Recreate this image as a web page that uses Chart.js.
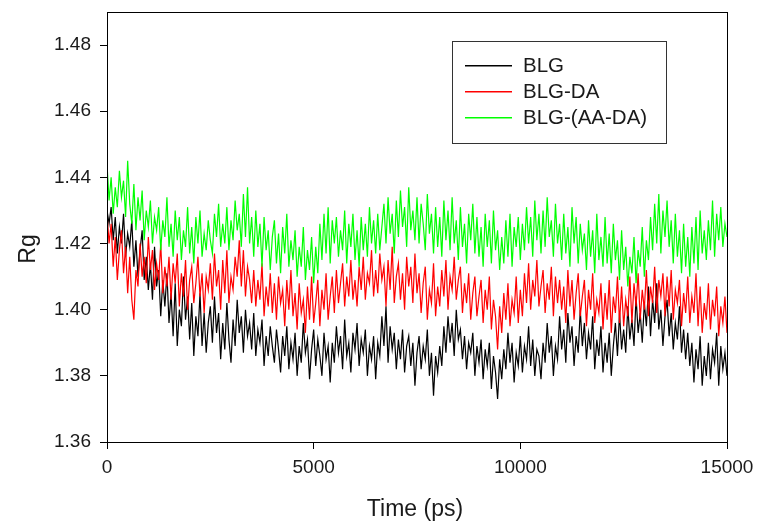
<!DOCTYPE html>
<html>
<head>
<meta charset="utf-8">
<script src="https://cdn.jsdelivr.net/npm/chart.js@4"></script>
<style>
  html, body { margin: 0; padding: 0; background: #fff; }
  #wrap { width: 757px; height: 526px; }
</style>
</head>
<body>
<div id="wrap"><canvas id="rgChart" width="757" height="526"></canvas></div>
<script>
// Time axis (ps), one sample every 50 ps
const timeStep = 50;
const yTicks = [1.36, 1.38, 1.40, 1.42, 1.44, 1.46, 1.48];
const xTicks = [0, 5000, 10000, 15000];
const seriesNames = ['BLG', 'BLG-DA', 'BLG-(AA-DA)'];
const seriesColors = ['#000000', '#ff0000', '#00ff00'];
const xTitle = 'Time (ps)';
const yTitle = 'Rg';

// Rg values (one row = 500 ps)
const blg = [
  1.430,
  1.426, 1.431, 1.421, 1.428, 1.417, 1.425, 1.420, 1.429, 1.416, 1.423,
  1.419, 1.427, 1.413, 1.421, 1.410, 1.418, 1.424, 1.409, 1.416, 1.406,
  1.414, 1.403, 1.419, 1.407, 1.412, 1.398, 1.409, 1.401, 1.411, 1.396,
  1.405, 1.392, 1.408, 1.389, 1.400, 1.395, 1.410, 1.397, 1.404, 1.391,
  1.402, 1.386, 1.398, 1.392, 1.405, 1.389, 1.399, 1.387, 1.396, 1.401,
  1.390, 1.404, 1.393, 1.399, 1.385, 1.396, 1.388, 1.402, 1.391, 1.384,
  1.397, 1.389, 1.403, 1.393, 1.398, 1.387, 1.400, 1.392, 1.396, 1.388,
  1.399, 1.386, 1.394, 1.390, 1.397, 1.383, 1.392, 1.386, 1.395, 1.389,
  1.384, 1.394, 1.388, 1.381, 1.392, 1.386, 1.395, 1.382, 1.390, 1.385,
  1.393, 1.380, 1.389, 1.384, 1.396, 1.387, 1.391, 1.379, 1.388, 1.394,
  1.383, 1.391, 1.386, 1.380, 1.393, 1.385, 1.389, 1.378, 1.390, 1.384,
  1.395, 1.387, 1.392, 1.382, 1.397, 1.386, 1.390, 1.381, 1.393, 1.388,
  1.396, 1.383, 1.391, 1.387, 1.394, 1.380, 1.389, 1.385, 1.392, 1.379,
  1.390, 1.386, 1.398, 1.389, 1.401, 1.384, 1.395, 1.388, 1.393, 1.382,
  1.391, 1.385, 1.394, 1.381, 1.389, 1.392, 1.383, 1.390, 1.377, 1.387,
  1.392, 1.382, 1.389, 1.385, 1.394, 1.380, 1.387, 1.374, 1.386, 1.381,
  1.389, 1.383, 1.395, 1.387, 1.398, 1.390, 1.396, 1.386, 1.400, 1.391,
  1.394, 1.385, 1.392, 1.382, 1.390, 1.387, 1.393, 1.380, 1.389, 1.384,
  1.391, 1.379, 1.388, 1.383, 1.390, 1.376, 1.386, 1.381, 1.373, 1.385,
  1.379, 1.388, 1.382, 1.393, 1.384, 1.390, 1.378, 1.387, 1.383, 1.392,
  1.381, 1.389, 1.385, 1.395, 1.383, 1.391, 1.380, 1.388, 1.386, 1.379,
  1.390, 1.384, 1.396, 1.387, 1.392, 1.380, 1.389, 1.385, 1.398, 1.388,
  1.394, 1.384, 1.399, 1.390, 1.395, 1.383, 1.392, 1.387, 1.400, 1.389,
  1.396, 1.385, 1.393, 1.388, 1.398, 1.382, 1.391, 1.386, 1.395, 1.381,
  1.390, 1.384, 1.393, 1.380, 1.389, 1.396, 1.386, 1.399, 1.388, 1.394,
  1.387, 1.401, 1.391, 1.397, 1.389, 1.404, 1.393, 1.399, 1.390, 1.402,
  1.395, 1.407, 1.392, 1.403, 1.396, 1.408, 1.394, 1.400, 1.389, 1.398,
  1.403, 1.392, 1.399, 1.388, 1.396, 1.391, 1.401, 1.387, 1.394, 1.385,
  1.393, 1.383, 1.390, 1.378, 1.388, 1.382, 1.392, 1.377, 1.386, 1.380,
  1.390, 1.379, 1.388, 1.384, 1.393, 1.377, 1.389, 1.382, 1.387, 1.380
];
const blgDa = [
  1.429,
  1.420, 1.426, 1.413, 1.422, 1.409, 1.418, 1.424, 1.411, 1.419, 1.405,
  1.416, 1.403, 1.397, 1.412, 1.407, 1.420, 1.410, 1.416, 1.408, 1.422,
  1.412, 1.418, 1.406, 1.414, 1.409, 1.420, 1.405, 1.413, 1.407, 1.416,
  1.403, 1.414, 1.408, 1.417, 1.401, 1.411, 1.404, 1.415, 1.400, 1.409,
  1.413, 1.402, 1.408, 1.416, 1.404, 1.411, 1.399, 1.410, 1.406, 1.414,
  1.403, 1.417, 1.407, 1.412, 1.400, 1.415, 1.405, 1.418, 1.402, 1.410,
  1.406, 1.416, 1.410, 1.421, 1.407, 1.418, 1.404, 1.413, 1.409, 1.402,
  1.412, 1.401, 1.409, 1.403, 1.414, 1.398, 1.407, 1.401, 1.411, 1.399,
  1.408, 1.397, 1.410, 1.402, 1.406, 1.395, 1.409, 1.400, 1.412, 1.398,
  1.405, 1.394, 1.408, 1.399, 1.403, 1.393, 1.407, 1.397, 1.410, 1.396,
  1.402, 1.409, 1.395, 1.406, 1.400, 1.411, 1.397, 1.404, 1.410, 1.399,
  1.412, 1.402, 1.408, 1.414, 1.401, 1.410, 1.404, 1.415, 1.403, 1.409,
  1.401, 1.413, 1.406, 1.416, 1.403, 1.411, 1.408, 1.418, 1.404, 1.412,
  1.405, 1.417, 1.409, 1.413, 1.401, 1.415, 1.406, 1.419, 1.402, 1.410,
  1.414, 1.403, 1.411, 1.400, 1.416, 1.407, 1.413, 1.402, 1.417, 1.405,
  1.411, 1.399, 1.408, 1.413, 1.397, 1.406, 1.402, 1.414, 1.398, 1.407,
  1.401, 1.412, 1.404, 1.415, 1.400, 1.410, 1.406, 1.416, 1.403, 1.409,
  1.413, 1.399, 1.408, 1.402, 1.411, 1.397, 1.405, 1.410, 1.398, 1.404,
  1.409, 1.396, 1.406, 1.400, 1.410, 1.394, 1.403, 1.398, 1.388, 1.401,
  1.393, 1.405, 1.397, 1.408, 1.395, 1.403, 1.399, 1.410, 1.396, 1.406,
  1.398, 1.411, 1.402, 1.414, 1.400, 1.409, 1.404, 1.415, 1.401, 1.407,
  1.412, 1.399, 1.408, 1.403, 1.413, 1.398, 1.410, 1.402, 1.409, 1.400,
  1.407, 1.396, 1.412, 1.401, 1.409, 1.397, 1.405, 1.411, 1.398, 1.404,
  1.409, 1.395, 1.406, 1.400, 1.411, 1.396, 1.403, 1.399, 1.408, 1.394,
  1.405, 1.397, 1.409, 1.393, 1.404, 1.399, 1.410, 1.396, 1.407, 1.395,
  1.403, 1.398, 1.410, 1.396, 1.408, 1.401, 1.411, 1.397, 1.406, 1.400,
  1.412, 1.398, 1.407, 1.402, 1.413, 1.399, 1.409, 1.404, 1.411, 1.398,
  1.410, 1.401, 1.412, 1.397, 1.406, 1.402, 1.409, 1.395, 1.405, 1.399,
  1.410, 1.396, 1.404, 1.399, 1.411, 1.395, 1.407, 1.393, 1.402, 1.397,
  1.408, 1.394, 1.403, 1.398, 1.407, 1.392, 1.401, 1.396, 1.404, 1.393
];
const blgAaDa = [
  1.444,
  1.433, 1.440, 1.429, 1.437, 1.431, 1.442, 1.434, 1.439, 1.428, 1.445,
  1.432, 1.426, 1.438, 1.424, 1.434, 1.427, 1.436, 1.421, 1.430, 1.425,
  1.433, 1.420, 1.428, 1.424, 1.431, 1.418, 1.427, 1.422, 1.434, 1.419,
  1.426, 1.416, 1.430, 1.421, 1.428, 1.415, 1.424, 1.419, 1.431, 1.417,
  1.425, 1.414, 1.428, 1.420, 1.430, 1.416, 1.423, 1.418, 1.427, 1.421,
  1.417, 1.429, 1.422, 1.432, 1.419, 1.426, 1.420, 1.431, 1.418, 1.427,
  1.421, 1.433, 1.424, 1.429, 1.419, 1.435, 1.422, 1.437, 1.420, 1.428,
  1.416, 1.430, 1.419, 1.426, 1.413, 1.428, 1.418, 1.424, 1.412, 1.422,
  1.427, 1.414, 1.423, 1.411, 1.425, 1.417, 1.429, 1.413, 1.421, 1.415,
  1.424, 1.410, 1.419, 1.413, 1.425, 1.409, 1.418, 1.412, 1.422, 1.408,
  1.419, 1.411, 1.426, 1.415, 1.429, 1.417, 1.431, 1.414, 1.427, 1.420,
  1.428, 1.416, 1.424, 1.418, 1.430, 1.414, 1.426, 1.419, 1.429, 1.415,
  1.424, 1.413, 1.428, 1.418, 1.426, 1.416, 1.431, 1.420, 1.427, 1.417,
  1.429, 1.418, 1.425, 1.432, 1.420, 1.434, 1.423, 1.429, 1.417, 1.433,
  1.422, 1.436, 1.425, 1.431, 1.419, 1.437, 1.424, 1.430, 1.421, 1.434,
  1.420, 1.432, 1.426, 1.418, 1.435, 1.423, 1.429, 1.417, 1.431, 1.419,
  1.428, 1.416, 1.433, 1.421, 1.430, 1.418, 1.434, 1.420, 1.427, 1.415,
  1.431, 1.419, 1.426, 1.414, 1.429, 1.421, 1.432, 1.417, 1.428, 1.416,
  1.425, 1.413, 1.429, 1.419, 1.427, 1.414, 1.430, 1.418, 1.424, 1.412,
  1.422, 1.414, 1.427, 1.416, 1.429, 1.413, 1.425, 1.419, 1.428, 1.415,
  1.426, 1.418, 1.431, 1.420, 1.428, 1.416, 1.433, 1.421, 1.429, 1.417,
  1.430, 1.419, 1.434, 1.422, 1.427, 1.416, 1.432, 1.420, 1.426, 1.415,
  1.429, 1.417, 1.425, 1.413, 1.431, 1.420, 1.428, 1.414, 1.426, 1.418,
  1.423, 1.412, 1.427, 1.416, 1.424, 1.411, 1.429, 1.415, 1.422, 1.413,
  1.428, 1.414, 1.423, 1.411, 1.426, 1.415, 1.421, 1.409, 1.424, 1.412,
  1.419, 1.407, 1.416, 1.411, 1.422, 1.408, 1.418, 1.413, 1.425, 1.410,
  1.421, 1.415, 1.428, 1.418, 1.432, 1.420, 1.435, 1.417, 1.430, 1.422,
  1.433, 1.419, 1.427, 1.414, 1.429, 1.416, 1.424, 1.411, 1.426, 1.413,
  1.422, 1.410, 1.425, 1.414, 1.428, 1.412, 1.430, 1.417, 1.424, 1.415,
  1.427, 1.418, 1.433, 1.416, 1.429, 1.421, 1.431, 1.419, 1.426, 1.422
];

const FONT = "'Liberation Sans', Arial, sans-serif";
const TEXT = '#1a1a1a';
const toPoints = arr => arr.map((v, i) => ({ x: i * timeStep, y: v }));

// box round the plot area, axis titles and the legend inside the plot
const framePlugin = {
  id: 'frame',
  afterDraw(chart) {
    const { ctx, chartArea: a } = chart;
    ctx.save();
    ctx.strokeStyle = '#000';
    ctx.lineWidth = 1;
    ctx.strokeRect(a.left + 0.5, a.top + 0.5, a.right - a.left, a.bottom - a.top);

    // axis titles
    ctx.fillStyle = TEXT;
    ctx.font = '23px ' + FONT;
    ctx.textAlign = 'center';
    ctx.textBaseline = 'middle';
    ctx.fillText(xTitle, (a.left + a.right) / 2 - 2, 510);
    ctx.save();
    ctx.translate(29, 249);
    ctx.rotate(-Math.PI / 2);
    ctx.fillText(yTitle, 0, 0);
    ctx.restore();

    // legend
    const bx = 452, by = 41, bw = 214, bh = 102;
    ctx.fillStyle = '#fff';
    ctx.fillRect(bx, by, bw, bh);
    ctx.strokeStyle = '#333';
    ctx.strokeRect(bx + 0.5, by + 0.5, bw, bh);
    ctx.font = '20.5px ' + FONT;
    ctx.textAlign = 'left';
    const rows = [65, 91, 117];
    seriesNames.forEach((name, i) => {
      ctx.fillStyle = seriesColors[i];
      ctx.fillRect(465, rows[i], 47, 1.5);
      ctx.fillStyle = TEXT;
      ctx.fillText(name, 523, rows[i] + 1);
    });
    ctx.restore();
  }
};

const ctx = document.getElementById('rgChart').getContext('2d');
new Chart(ctx, {
  type: 'line',
  data: {
    datasets: [
      { label: seriesNames[0], data: toPoints(blg), borderColor: seriesColors[0], order: 3 },
      { label: seriesNames[1], data: toPoints(blgDa), borderColor: seriesColors[1], order: 2 },
      { label: seriesNames[2], data: toPoints(blgAaDa), borderColor: seriesColors[2], order: 1 }
    ]
  },
  options: {
    responsive: false,
    animation: false,
    datasets: { line: { borderWidth: 1.2, pointRadius: 0, tension: 0 } },
    layout: { padding: { top: 12, right: 30, left: 0, bottom: 0 } },
    plugins: {
      legend: { display: false },
      tooltip: { enabled: false }
    },
    scales: {
      x: {
        type: 'linear',
        min: 0,
        max: 15000,
        afterBuildTicks: s => { s.ticks = xTicks.map(v => ({ value: v })); },
        afterFit: s => { s.height = 84; s.paddingLeft = 0; s.paddingRight = 0; },
        grid: { drawOnChartArea: false, tickLength: 7, color: '#000' },
        border: { color: '#000' },
        ticks: { color: TEXT, font: { family: FONT, size: 19 }, padding: 7, maxRotation: 0, callback: v => String(v) }
      },
      y: {
        min: 1.36,
        max: 1.49,
        afterBuildTicks: s => { s.ticks = yTicks.map(v => ({ value: v })); },
        afterFit: s => { s.width = 107; s.paddingTop = 0; s.paddingBottom = 0; },
        grid: { drawOnChartArea: false, tickLength: 7, color: '#000' },
        border: { color: '#000' },
        ticks: { color: TEXT, font: { family: FONT, size: 19 }, padding: 9, callback: v => v.toFixed(2) }
      }
    }
  },
  plugins: [framePlugin]
});
</script>
</body>
</html>
